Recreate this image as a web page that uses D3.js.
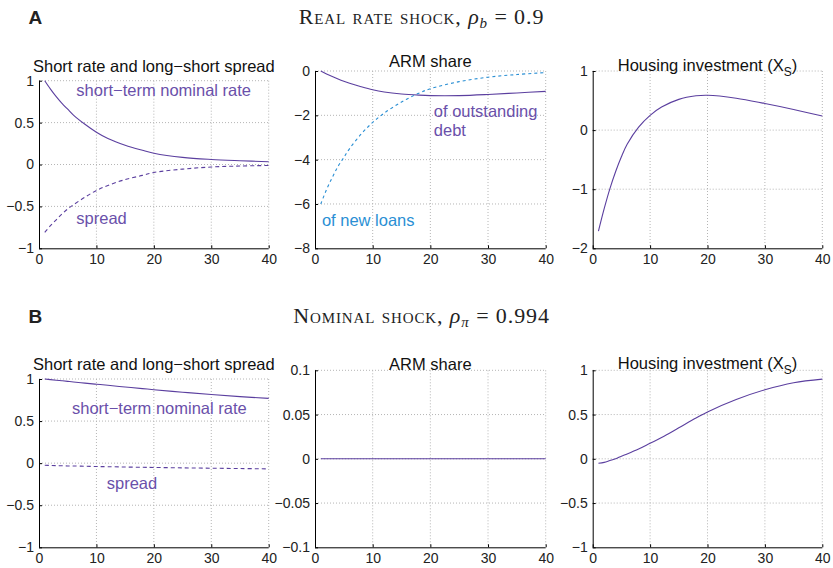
<!DOCTYPE html>
<html>
<head>
<meta charset="utf-8">
<script src="https://cdn.jsdelivr.net/npm/d3@7"></script>
<style>
  body { margin: 0; background: #fff; }
  text { font-family: "Liberation Sans", Arial, sans-serif; }
</style>
</head>
<body>
<svg id="chart" width="833" height="568"></svg>
<script>
const horizon = [1, 2, 3, 4, 5, 6, 8, 10, 12, 15, 18, 20, 25, 30, 35, 40];

// A: real rate shock
const realShortRate = [1.00, 0.90, 0.81, 0.73, 0.66, 0.59, 0.48, 0.385, 0.31, 0.23, 0.17, 0.135, 0.085, 0.06, 0.045, 0.033];
const realSpread    = [-0.81, -0.73, -0.66, -0.59, -0.53, -0.48, -0.39, -0.31, -0.25, -0.18, -0.13, -0.095, -0.055, -0.03, -0.018, -0.012];
const realArmDebt   = [0, -0.13, -0.25, -0.36, -0.46, -0.55, -0.71, -0.85, -0.95, -1.04, -1.09, -1.11, -1.11, -1.06, -0.99, -0.92];
const realArmNew    = [-6.0, -5.35, -4.8, -4.3, -3.9, -3.5, -2.85, -2.32, -1.9, -1.4, -1.0, -0.8, -0.48, -0.28, -0.16, -0.07];
const realHousing   = [-1.71, -1.33, -0.99, -0.70, -0.45, -0.24, 0.05, 0.25, 0.39, 0.52, 0.58, 0.59, 0.54, 0.45, 0.35, 0.24];

// B: nominal shock
const nomShortRate  = [1.00, 0.993, 0.986, 0.979, 0.972, 0.965, 0.951, 0.938, 0.925, 0.905, 0.886, 0.873, 0.843, 0.815, 0.79, 0.77];
const nomSpread     = [-0.025, -0.027, -0.029, -0.031, -0.033, -0.034, -0.037, -0.040, -0.042, -0.046, -0.049, -0.051, -0.056, -0.060, -0.064, -0.068];
const nomArm        = [0, 0, 0, 0, 0, 0, 0, 0, 0, 0, 0, 0, 0, 0, 0, 0];
const nomHousing    = [-0.05, -0.04, -0.02, 0.0, 0.03, 0.055, 0.11, 0.175, 0.24, 0.35, 0.46, 0.53, 0.67, 0.78, 0.86, 0.90];

const xTicks = [0, 10, 20, 30, 40];
const rateTicks = [-1, -0.5, 0, 0.5, 1];
const armTicksA = [-8, -6, -4, -2, 0];
const housingTicksA = [-2, -1, 0, 1];
const armTicksB = [-0.1, -0.05, 0, 0.05, 0.1];

const purple = "#5b3f9f";
const purpleText = "#6a50aa";
const blue = "#2a8fd4";

const svg = d3.select("#chart");

const panels = [
  { box: [39, 80.7, 268.7, 248.3], titleY: 71.7, title: "Short rate and long\u2212short spread",
    domain: [-1, 1], ticks: rateTicks,
    series: [{ v: realShortRate, c: purple, dash: null }, { v: realSpread, c: purple, dash: "4,3" }],
    notes: [{ t: 6.5, y: 0.82, lines: ["short\u2212term nominal rate"], c: purpleText },
            { t: 6.5, y: -0.71, lines: ["spread"], c: purpleText }] },
  { box: [315, 71, 545.7, 248.3], titleY: 66.7, title: "ARM share",
    domain: [-8, 0], ticks: armTicksA,
    series: [{ v: realArmDebt, c: purple, dash: null }, { v: realArmNew, c: blue, dash: "3,3" }],
    notes: [{ t: 20.6, y: -2.08, lines: ["of outstanding", "debt"], c: purpleText },
            { t: 1.2, y: -7.0, lines: ["of new loans"], c: blue }] },
  { box: [592.7, 71, 822.3, 248.3], titleY: 70.7, title: "Housing investment (X", sub: "S", after: ")",
    domain: [-2, 1], ticks: housingTicksA,
    series: [{ v: realHousing, c: purple, dash: null }], notes: [] },
  { box: [39, 379, 268.7, 547.3], titleY: 370, title: "Short rate and long\u2212short spread",
    domain: [-1, 1], ticks: rateTicks,
    series: [{ v: nomShortRate, c: purple, dash: null }, { v: nomSpread, c: purple, dash: "4,3" }],
    notes: [{ t: 5.75, y: 0.584, lines: ["short\u2212term nominal rate"], c: purpleText },
            { t: 11.8, y: -0.307, lines: ["spread"], c: purpleText }] },
  { box: [315, 370.3, 545.7, 547.3], titleY: 369.5, title: "ARM share",
    domain: [-0.1, 0.1], ticks: armTicksB,
    series: [{ v: nomArm, c: purple, dash: null }], notes: [] },
  { box: [592.7, 370.3, 822.3, 547.3], titleY: 369, title: "Housing investment (X", sub: "S", after: ")",
    domain: [-1, 1], ticks: rateTicks,
    series: [{ v: nomHousing, c: purple, dash: null }], notes: [] }
];

const fmt = v => String(v).replace("-", "\u2212");

panels.forEach(p => {
  const [x0, y0, x1, y1] = p.box;
  const x = d3.scaleLinear().domain([0, 40]).range([x0, x1]);
  const y = d3.scaleLinear().domain(p.domain).range([y1, y0]);
  const g = svg.append("g");

  // dotted grid
  g.selectAll(".gx").data(xTicks.filter(d => d > 0)).join("line")
    .attr("x1", d => x(d)).attr("x2", d => x(d)).attr("y1", y0).attr("y2", y1)
    .attr("stroke", "#b5b5b5").attr("stroke-dasharray", "1,2");
  g.selectAll(".gy").data(p.ticks.filter(d => d > p.domain[0])).join("line")
    .attr("x1", x0).attr("x2", x1).attr("y1", d => y(d)).attr("y2", d => y(d))
    .attr("stroke", "#b5b5b5").attr("stroke-dasharray", "1,2");

  // axes
  const ax = g.append("g").attr("transform", `translate(0,${y1})`)
    .call(d3.axisBottom(x).tickValues(xTicks).tickSize(-3).tickPadding(6).tickFormat(fmt));
  const ay = g.append("g").attr("transform", `translate(${x0},0)`)
    .call(d3.axisLeft(y).tickValues(p.ticks).tickSize(-3).tickPadding(5).tickFormat(fmt));
  [ax, ay].forEach(a => {
    a.select(".domain").attr("stroke", "#000").attr("d",
      a === ax ? `M${x0},0.5H${x1}` : `M0.5,${y0}V${y1}`);
    a.selectAll(".tick line").attr("stroke", "#000");
    a.selectAll(".tick text").attr("fill", "#222").style("font-size", "14px")
      .style("font-family", "Liberation Sans, Arial, sans-serif");
  });

  // series
  const line = d3.line().x((d, i) => x(horizon[i])).y(d => y(d)).curve(d3.curveCatmullRom.alpha(0.5));
  p.series.forEach(s => {
    g.append("path").datum(s.v).attr("d", line)
      .attr("fill", "none").attr("stroke", s.c).attr("stroke-width", 1.1)
      .attr("stroke-dasharray", s.dash);
  });

  // annotations
  p.notes.forEach(n => {
    const t = g.append("text").attr("x", x(n.t)).attr("y", y(n.y))
      .attr("fill", n.c).style("font-size", "16.5px");
    n.lines.forEach((l, i) => t.append("tspan").attr("x", x(n.t)).attr("dy", i ? 19 : 0).text(l));
  });

  // title
  const tt = g.append("text").attr("x", (x0 + x1) / 2).attr("y", p.titleY)
    .attr("text-anchor", "middle").attr("fill", "#111").style("font-size", "16.5px");
  tt.append("tspan").text(p.title);
  if (p.sub) {
    tt.append("tspan").attr("dy", 5).style("font-size", "12px").text(p.sub);
    tt.append("tspan").attr("dy", -5).text(p.after);
  }
});

// panel headings
function heading(letter, y, label, sym, sub, val) {
  svg.append("text").attr("x", 28.5).attr("y", y).style("font-size", "19px")
    .style("font-weight", "bold").attr("fill", "#222").text(letter);
  const t = svg.append("text").attr("x", 421.5).attr("y", y).attr("text-anchor", "middle")
    .attr("fill", "#222").style("font-family", "Liberation Serif, Times New Roman, serif")
    .style("font-size", "22px").style("letter-spacing", "0.9px");
  t.append("tspan").style("font-variant", "small-caps").text(label);
  t.append("tspan").style("font-style", "italic").text(sym);
  t.append("tspan").style("font-style", "italic").style("font-size", "15px").attr("dy", 4).text(sub);
  t.append("tspan").attr("dy", -4).text(" = " + val);
}
heading("A", 23.5, "Real rate shock, ", "\u03c1", "b", "0.9");
heading("B", 322.5, "Nominal shock, ", "\u03c1", "\u03c0", "0.994");
</script>
</body>
</html>
